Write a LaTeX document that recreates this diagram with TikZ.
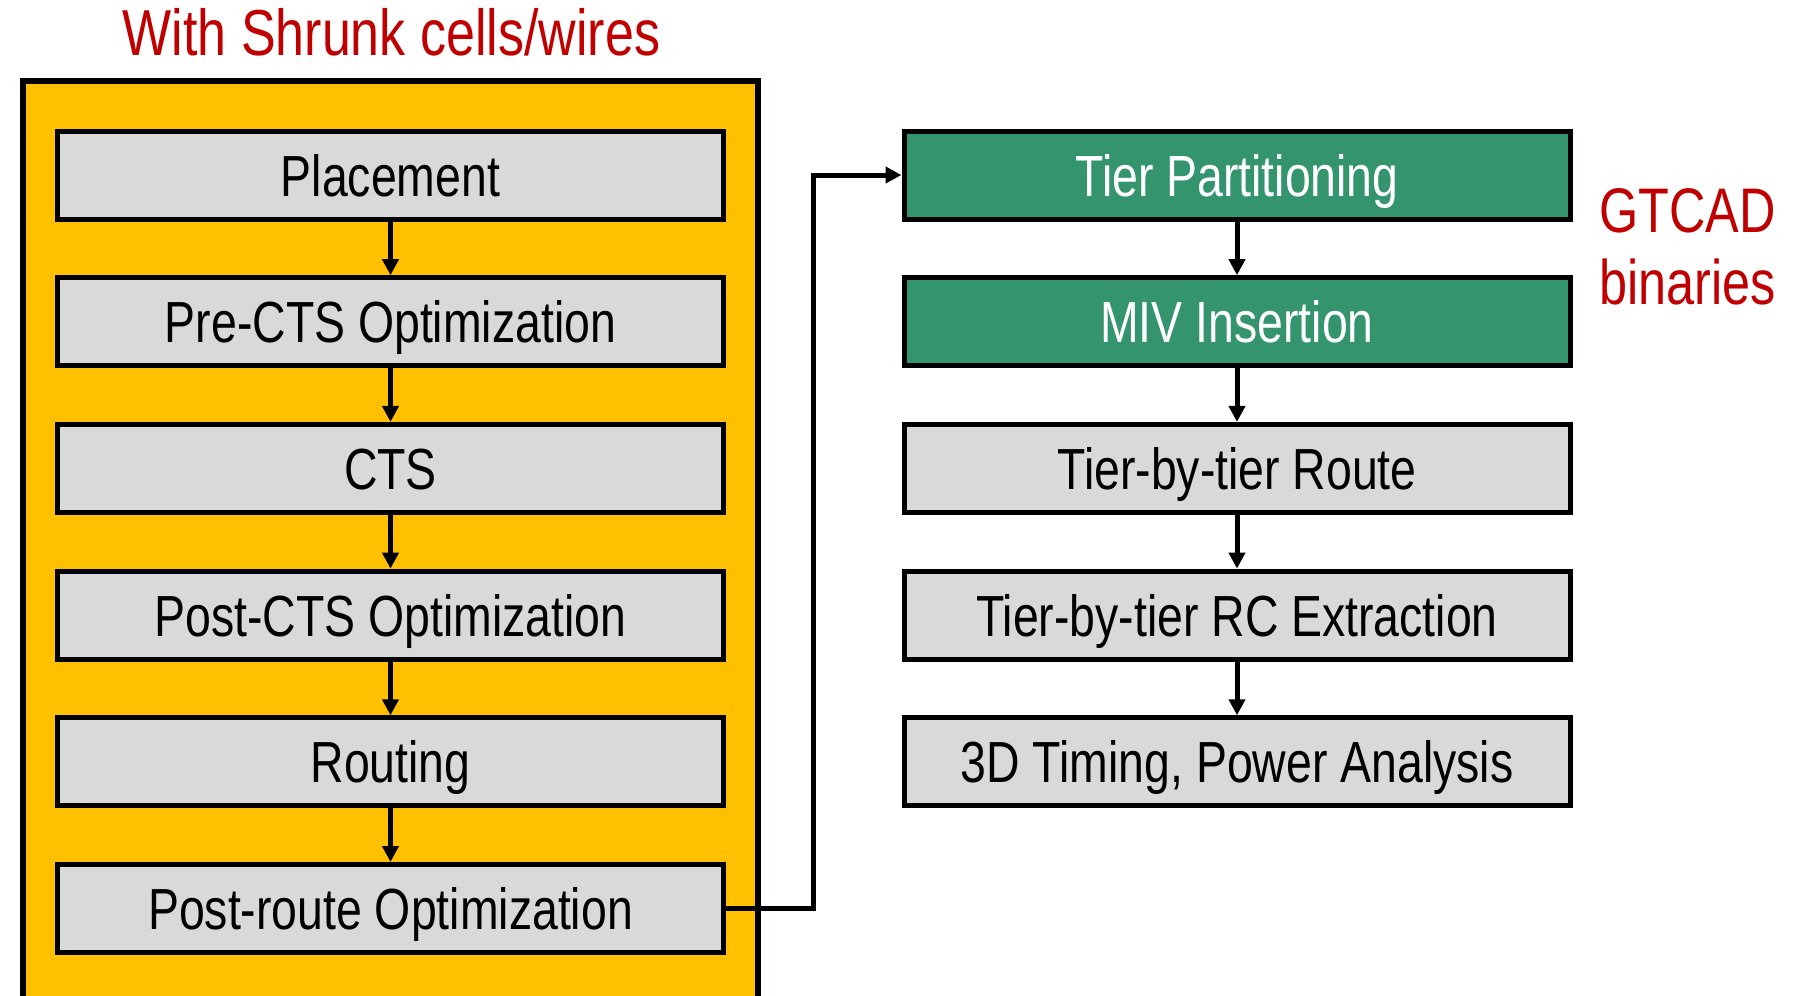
\documentclass[tikz,border=0pt]{standalone}
\usepackage{fontspec}
\setmainfont{Liberation Sans}[FakeStretch=0.8]
\usetikzlibrary{arrows.meta}

\definecolor{shrinkyellow}{HTML}{FFC000}
\definecolor{stagegray}{HTML}{D9D9D9}
\definecolor{tiergreen}{HTML}{33946E}
\definecolor{notered}{HTML}{C00000}

\begin{document}
\begin{tikzpicture}[x=0.5pt,y=-0.5pt,
    stage/.style={draw=black, line width=2.5pt, fill=stagegray, inner sep=0pt,
        minimum width=333pt, minimum height=44pt, text height=21pt, text depth=0pt,
        font=\fontsize{29}{33}\selectfont},
    gtstage/.style={stage, fill=tiergreen, text=white},
    flow/.style={draw=black, line width=2.5pt, -{Triangle[length=8pt,width=8pt]}},
    note/.style={text=notered, font=\fontsize{31.5}{36}\selectfont}]
    \def\leftX{390.5}
    \def\rightX{1237}
    \def\rowGap{146.7}

    \useasboundingbox (0,0) rectangle (1796,996);

    % yellow frame runs off the bottom of the page
    \begin{scope}
        \clip (0,0) rectangle (1796,996);
        \draw[fill=shrinkyellow, line width=3pt] (23,80.5) rectangle (758,1030);
    \end{scope}
    \node[note, font=\fontsize{32.5}{36}\selectfont] (shrunk) at (391.5,32) {With Shrunk cells/wires};

    % 2D flow on the left
    \foreach \txt [count=\i] in {Placement, Pre-CTS Optimization, CTS,
        Post-CTS Optimization, Routing, Post-route Optimization} {
        \node[stage] (l\i) at (\leftX,{175+(\i-1)*\rowGap}) {\txt};
    }

    % tier flow on the right
    \node[gtstage] (r1) at (\rightX,175) {Tier Partitioning};
    \node[gtstage] (r2) at (\rightX,{175+\rowGap}) {MIV Insertion};
    \foreach \txt [count=\i from 3] in {Tier-by-tier Route,
        Tier-by-tier RC Extraction, {3D Timing, Power Analysis}} {
        \node[stage] (r\i) at (\rightX,{175+(\i-1)*\rowGap}) {\txt};
    }

    \node[note, anchor=west, align=left] (gtcad) at (1592,247) {GTCAD\\binaries};

    % arrows
    \foreach \i [evaluate=\i as \j using int(\i+1)] in {1,...,5} {
        \draw[flow] (l\i) -- (l\j);
    }
    \foreach \i [evaluate=\i as \j using int(\i+1)] in {1,...,4} {
        \draw[flow] (r\i) -- (r\j);
    }
    \coordinate (elbow) at (813,0);
    \draw[flow] (l6.east) -| (elbow |- r1.west) -- (r1.west);
\end{tikzpicture}
\end{document}
